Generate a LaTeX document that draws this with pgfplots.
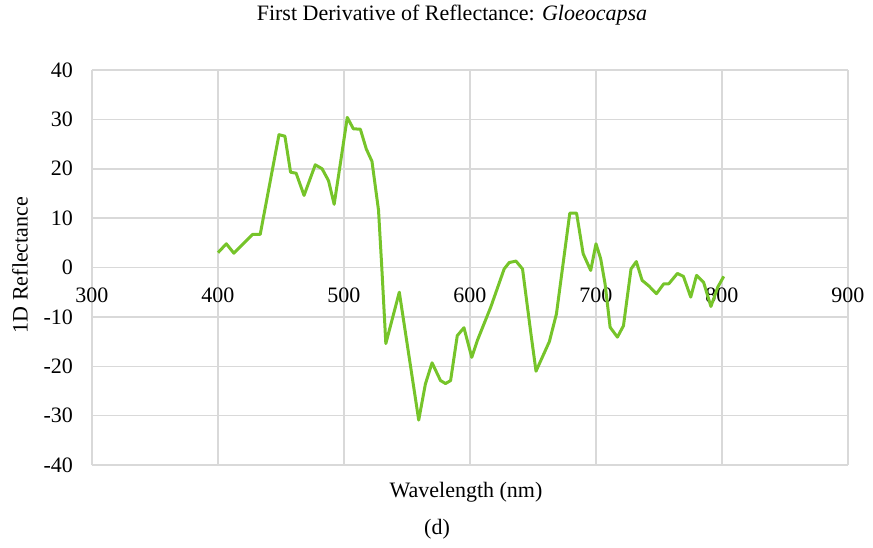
\documentclass[border=0pt]{standalone}
\usepackage{fontspec}
\setmainfont{Liberation Serif}
\usepackage{pgfplots}
\pgfplotsset{compat=1.18}
\definecolor{curvegreen}{RGB}{118,196,42}
\definecolor{gridgray}{RGB}{217,217,217}

\begin{document}
\begin{tikzpicture}
\useasboundingbox (0,0) rectangle (436.5pt,273.5pt);
\begin{axis}[
    at={(46pt,41pt)}, anchor=south west,
    scale only axis,
    width=378pt, height=197.5pt,
    xmin=300, xmax=900, ymin=-40, ymax=40,
    xtick={300,400,...,900},
    ytick={-40,-30,...,40},
    grid=major,
    major grid style={draw=gridgray, line width=0.75pt},
    axis line style={draw=none},
    major tick length=0pt,
    /pgf/number format/assume math mode=true,
    /pgf/number format/1000 sep={},
    tick label style={font=\fontsize{11}{13}\selectfont},
    yticklabel style={anchor=east, xshift=-6pt},
    xticklabel style={anchor=center, yshift=85pt},
]
\addplot[curvegreen, line width=1.5pt, line join=round] coordinates {
(400,3) (406.6,4.8) (412.6,2.9) (427.5,6.7) (433.5,6.7)
(448.4,26.9) (453.1,26.6) (457.6,19.3) (462,19.1) (468.3,14.6)
(477.2,20.8) (482.6,20.0) (487.7,17.6) (492.2,12.8) (496.9,20.7)
(502.6,30.4) (507.4,28.1) (513,28) (517.7,24) (522.2,21.5)
(527.4,11.6) (530,0) (533.2,-15.4) (543.9,-5) (559.3,-30.9)
(564.6,-23.6) (569.9,-19.3) (576.6,-22.9) (580.6,-23.5) (584.6,-22.9)
(589.9,-13.8) (595.2,-12.2) (601.4,-18.2) (605.8,-14.8) (616.5,-8)
(627.1,-0.3) (631.1,1) (636.5,1.3) (641.7,-0.3) (648.4,-13.5)
(652.4,-21) (663,-15) (668.6,-9.4) (679.2,11) (684.6,11)
(689.8,2.8) (695.8,-0.6) (700,4.8) (703.7,1.8) (707.2,-3.3)
(711.2,-12.1) (717,-14.1) (721.8,-11.8) (727.8,-0.3) (732,1.2)
(736.6,-2.6) (741.8,-3.7) (748,-5.3) (753.8,-3.3) (757.8,-3.3)
(764.6,-1.2) (769.4,-1.8) (775.2,-6) (779.8,-1.6) (785.4,-3)
(791.2,-7.9) (796.6,-4) (801.4,-1.8)
};
\end{axis}
\node[font=\fontsize{11}{13}\selectfont] at (226pt,266pt) {First Derivative of Reflectance: \textit{Gloeocapsa}};
\node[font=\fontsize{11}{13}\selectfont, rotate=90] at (10pt,141pt) {1D Reflectance};
\node[font=\fontsize{11}{13}\selectfont] at (233pt,27.5pt) {Wavelength (nm)};
\node[font=\fontsize{11}{13}\selectfont] at (218.5pt,9pt) {(d)};
\end{tikzpicture}
\end{document}
